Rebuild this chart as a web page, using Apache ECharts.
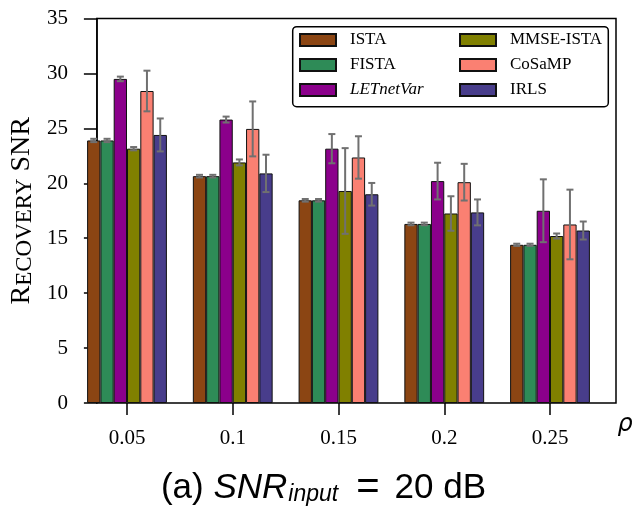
<!DOCTYPE html>
<html><head><meta charset="utf-8">
<script src="https://cdn.jsdelivr.net/npm/echarts@6/dist/echarts.min.js"></script>
<style>html,body{margin:0;padding:0;background:#fff}#c{width:634px;height:508px}</style>
</head><body><div id="c"></div>
<script>
// ---- data ----
const categories = ['0.05', '0.1', '0.15', '0.2', '0.25'];
const seriesNames = ['ISTA', 'FISTA', 'LETnetVar', 'MMSE-ISTA', 'CoSaMP', 'IRLS'];
const yTicks = [0, 5, 10, 15, 20, 25, 30, 35];

const ista       = [23.9, 20.65, 18.45, 16.3, 14.4];
const istaErr    = [0.15, 0.12, 0.12, 0.12, 0.1];
const fista      = [23.9, 20.65, 18.45, 16.3, 14.4];
const fistaErr   = [0.15, 0.12, 0.12, 0.12, 0.1];
const letnet     = [29.5, 25.8, 23.15, 20.2, 17.5];
const letnetErr  = [0.21, 0.27, 1.33, 1.67, 2.86];
const mmse       = [23.15, 21.9, 19.3, 17.25, 15.2];
const mmseErr    = [0.15, 0.27, 3.9, 1.57, 0.23];
const cosamp     = [28.4, 24.95, 22.35, 20.1, 16.25];
const cosampErr  = [1.85, 2.5, 1.93, 1.67, 3.17];
const irls       = [24.4, 20.9, 19.0, 17.35, 15.7];
const irlsErr    = [1.5, 1.7, 1.03, 1.18, 0.82];

// ---- styling ----
const colors = ['#8B4513', '#2E8B57', '#8B008B', '#808000', '#FA8072', '#483D8B'];
const means = [ista, fista, letnet, mmse, cosamp, irls];
const errs = [istaErr, fistaErr, letnetErr, mmseErr, cosampErr, irlsErr];
const BAR_W = 13.3;
const SERIF = 'Liberation Serif';
const SANS = 'Liberation Sans';

const chart = echarts.init(document.getElementById('c'));

const barSeries = seriesNames.map((n, i) => ({
  name: n, type: 'bar', xAxisIndex: 0, yAxisIndex: 0,
  barWidth: BAR_W, barGap: '0%', silent: true, z: 2,
  itemStyle: { color: colors[i], borderColor: '#111', borderWidth: 1 },
  data: means[i]
}));

const errSeries = seriesNames.map((n, i) => ({
  type: 'custom', xAxisIndex: 0, yAxisIndex: 0, z: 5, silent: true,
  data: means[i].map((m, k) => [k, m, errs[i][k]]),
  renderItem: (params, api) => {
    const k = api.value(0), m = api.value(1), e = api.value(2);
    const off = (i - 2.5) * BAR_W;
    const top = api.coord([k, m + e]);
    const bot = api.coord([k, m - e]);
    const x = top[0] + off;
    const cap = 3.5;
    const style = { stroke: '#707070', lineWidth: 2 };
    return { type: 'group', children: [
      { type: 'line', shape: { x1: x, y1: top[1], x2: x, y2: bot[1] }, style },
      { type: 'line', shape: { x1: x - cap, y1: top[1], x2: x + cap, y2: top[1] }, style },
      { type: 'line', shape: { x1: x - cap, y1: bot[1], x2: x + cap, y2: bot[1] }, style }
    ]};
  }
}));

const legendCommon = {
  orient: 'vertical', itemWidth: 36, itemHeight: 12, itemGap: 8, padding: 0,
  icon: 'rect', selectedMode: false, top: 31.5,
  textStyle: {
    fontFamily: SERIF, fontSize: 17, lineHeight: 17, color: '#000', padding: [0, 0, 0, 9],
    rich: { i: { fontFamily: SERIF, fontSize: 17, fontStyle: 'italic', color: '#000' } }
  },
  formatter: n => n === 'LETnetVar' ? '{i|LETnetVar}' : n
};

chart.setOption({
  animation: false,
  backgroundColor: '#fff',
  grid: [
    { left: 74.125, right: 31.125, top: 18.5, bottom: 105, show: false },
    { left: 86.5, right: 18, top: 18.5, bottom: 105, show: true,
      borderColor: '#000', borderWidth: 1.5, backgroundColor: 'transparent' }
  ],
  xAxis: [
    { type: 'category', gridIndex: 0, data: categories, boundaryGap: true,
      axisLine: { show: false },
      axisTick: { show: true, alignWithLabel: true, length: 12, lineStyle: { color: '#000', width: 1.5 } },
      axisLabel: { margin: 25, fontFamily: SERIF, fontSize: 21, color: '#000' },
      splitLine: { show: false } },
    { type: 'value', gridIndex: 1, min: 0, max: 1, show: false }
  ],
  yAxis: [
    { type: 'value', gridIndex: 0, min: 0, max: 35, interval: 5, show: false },
    { type: 'value', gridIndex: 1, min: yTicks[0], max: yTicks[yTicks.length - 1], interval: 5,
      axisLine: { show: true, lineStyle: { color: '#000', width: 1.5 } },
      axisTick: { show: true, length: 13, lineStyle: { color: '#000', width: 1.5 } },
      axisLabel: { margin: 29, fontFamily: SERIF, fontSize: 21, color: '#000' },
      splitLine: { show: false },
      name: '{R|R}{s|ECOVERY}{R| SNR}', nameLocation: 'middle', nameGap: 49, nameRotate: 90,
      nameTextStyle: {
        fontFamily: SERIF, fontSize: 28, color: '#000',
        rich: {
          R: { fontFamily: SERIF, fontSize: 28, color: '#000', verticalAlign: 'bottom', lineHeight: 28 },
          s: { fontFamily: SERIF, fontSize: 23, color: '#000', verticalAlign: 'bottom', lineHeight: 23 }
        }
      } }
  ],
  legend: [
    Object.assign({}, legendCommon, { left: 299, data: ['ISTA', 'FISTA', 'LETnetVar'] }),
    Object.assign({}, legendCommon, { left: 459, data: ['MMSE-ISTA', 'CoSaMP', 'IRLS'] })
  ],
  graphic: [
    { type: 'rect', z: 3, shape: { x: 292.7, y: 26.7, width: 315.6, height: 80, r: 4 },
      style: { fill: '#fff', stroke: '#000', lineWidth: 1.5 } },
    { type: 'text', z: 10, x: 625, y: 425,
      style: { text: 'ρ', fontFamily: 'DejaVu Sans', fontStyle: 'italic', fontSize: 24,
               fill: '#000', align: 'center', verticalAlign: 'middle' } },
    { type: 'text', z: 10, x: 323.5, y: 488,
      style: {
        text: '{n|(a) }{i|SNR}{s|input}{e|=}{n|20 dB}',
        align: 'center', verticalAlign: 'middle', fill: '#000',
        fontFamily: SANS, fontSize: 35,
        rich: {
          n: { fontFamily: SANS, fontSize: 35, fill: '#000' },
          i: { fontFamily: SANS, fontSize: 35, fontStyle: 'italic', fill: '#000' },
          s: { fontFamily: SANS, fontSize: 23, fontStyle: 'italic', fill: '#000', padding: [14, 0, 0, 1] },
          e: { fontFamily: SANS, fontSize: 40, fill: '#000', padding: [0, 15, 0, 18] }
        }
      } }
  ],
  series: barSeries.concat(errSeries)
});
</script>
</body></html>
